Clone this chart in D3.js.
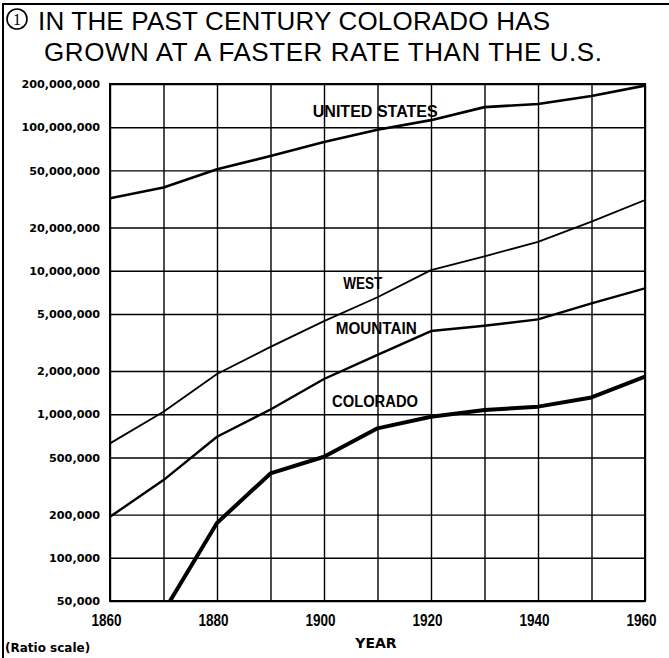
<!DOCTYPE html>
<html>
<head>
<meta charset="utf-8">
<script src="https://cdn.jsdelivr.net/npm/d3@7"></script>
<style>
  body { margin: 0; background: #fff; }
  svg { display: block; }
</style>
</head>
<body>
<div class="chart"></div>
<script>

// decades on the x axis
var years = [1860, 1870, 1880, 1890, 1900, 1910, 1920, 1930, 1940, 1950, 1960];
var yearLabels = [1860, 1880, 1900, 1920, 1940, 1960];

// population
var usPop = [32e6, 38e6, 51e6, 63e6, 79e6, 96e6, 112e6, 138e6, 145e6, 165e6, 195e6];
var westPop = [627e3, 1.04e6, 1.91e6, 2.95e6, 4.46e6, 6.53e6, 10.1e6, 12.6e6, 15.9e6, 22.0e6, 31.1e6];
var mountainPop = [193e3, 348e3, 697e3, 1.08e6, 1.76e6, 2.59e6, 3.80e6, 4.14e6, 4.58e6, 5.93e6, 7.54e6];
var coloradoPop = [null, 42e3, 175e3, 387e3, 506e3, 798e3, 961e3, 1.07e6, 1.13e6, 1.31e6, 1.83e6];

var popTicks = [5e4, 1e5, 2e5, 5e5, 1e6, 2e6, 5e6, 1e7, 2e7, 5e7, 1e8, 2e8];

var seriesNames = ["UNITED STATES", "WEST", "MOUNTAIN", "COLORADO"];
var titleLines = ["IN THE PAST CENTURY COLORADO HAS", "GROWN AT A FASTER RATE THAN THE U.S."];

var W = 669, H = 658;
var pLeft = 110, pRight = 645, pTop = 84, pBottom = 601;

var svg = d3.select("div.chart")
            .append("svg")
            .attr("width", W)
            .attr("height", H);

var x = d3.scaleLinear()
          .domain([1860, 1960])
          .range([pLeft, pRight]);

var y = d3.scaleLog()
          .domain([5e4, 2e8])
          .range([pBottom, pTop]);

// outer frame (left + top only show in the scan)
svg.append("path")
    .attr("d", "M3," + H + "V4H" + W)
    .attr("fill", "none")
    .attr("stroke", "#000")
    .attr("stroke-width", 2);

// title
svg.append("circle")
    .attr("cx", 17)
    .attr("cy", 19)
    .attr("r", 10)
    .attr("fill", "none")
    .attr("stroke", "#000")
    .attr("stroke-width", 1.6);

svg.append("text")
    .attr("x", 17)
    .attr("y", 25)
    .attr("text-anchor", "middle")
    .attr("font-family", "Liberation Serif, serif")
    .attr("font-size", 16)
    .text("1");

svg.selectAll(".title")
    .data(titleLines)
    .enter()
    .append("text")
      .attr("class", "title")
      .attr("x", function(d, i){ return i == 0 ? 38 : 44; })
      .attr("y", function(d, i){ return i == 0 ? 30 : 61; })
      .attr("textLength", function(d, i){ return i == 0 ? 512 : 558; })
      .attr("lengthAdjust", "spacing")
      .attr("font-family", "Liberation Sans, Arial, sans-serif")
      .attr("font-size", 26)
      .text(function(d){ return d; });

// grid
svg.append("g")
    .attr("class", "grid")
    .attr("transform", "translate(" + pLeft + ",0)")
    .call(d3.axisLeft(y).tickValues(popTicks).tickSize(-(pRight - pLeft)).tickFormat(""))
    .call(function(g){ g.select(".domain").remove(); });

svg.append("g")
    .attr("class", "grid")
    .attr("transform", "translate(0," + pBottom + ")")
    .call(d3.axisBottom(x).tickValues(years).tickSize(-(pBottom - pTop)).tickFormat(""))
    .call(function(g){ g.select(".domain").remove(); });

svg.selectAll(".grid line")
    .attr("stroke", "#000")
    .attr("stroke-width", 1.4);

svg.append("rect")
    .attr("x", pLeft)
    .attr("y", pTop)
    .attr("width", pRight - pLeft)
    .attr("height", pBottom - pTop)
    .attr("fill", "none")
    .attr("stroke", "#000")
    .attr("stroke-width", 2);

// axis labels
var yAxis = svg.append("g")
    .attr("transform", "translate(" + pLeft + ",0)")
    .call(d3.axisLeft(y).tickValues(popTicks).tickSize(0).tickPadding(10).tickFormat(d3.format(",")));
yAxis.select(".domain").remove();
yAxis.selectAll("text")
    .attr("font-family", "DejaVu Sans, sans-serif")
    .attr("font-weight", "bold")
    .attr("font-size", 11.2)
    .attr("fill", "#000");

var xAxis = svg.append("g")
    .attr("transform", "translate(0," + pBottom + ")")
    .call(d3.axisBottom(x).tickValues(yearLabels).tickSize(0).tickPadding(14).tickFormat(d3.format("d")));
xAxis.select(".domain").remove();
xAxis.selectAll("text")
    .attr("dx", -4)
    .attr("textLength", 30)
    .attr("lengthAdjust", "spacingAndGlyphs")
    .attr("font-family", "Liberation Sans, sans-serif")
    .attr("font-weight", "bold")
    .attr("font-size", 16)
    .attr("fill", "#000");

svg.append("text")
    .attr("x", 376)
    .attr("y", 648)
    .attr("text-anchor", "middle")
    .attr("font-family", "DejaVu Sans, sans-serif")
    .attr("font-weight", "bold")
    .attr("font-size", 14)
    .text("YEAR");

svg.append("text")
    .attr("x", 5)
    .attr("y", 652)
    .attr("font-family", "DejaVu Sans, sans-serif")
    .attr("font-weight", "bold")
    .attr("font-size", 12)
    .text("(Ratio scale)");

// lines
svg.append("clipPath")
    .attr("id", "plot")
  .append("rect")
    .attr("x", pLeft)
    .attr("y", pTop - 4)
    .attr("width", pRight - pLeft)
    .attr("height", pBottom - pTop + 4);

var line = d3.line()
    .defined(function(d){ return d != null; })
    .x(function(d, i){ return x(years[i]); })
    .y(function(d){ return y(d); });

var series = [
  {vals: usPop, w: 2.6},
  {vals: westPop, w: 1.8},
  {vals: mountainPop, w: 2.4},
  {vals: coloradoPop, w: 4}
];

svg.append("g")
    .attr("clip-path", "url(#plot)")
    .selectAll(".pop")
    .data(series)
    .enter()
    .append("path")
      .attr("class", "pop")
      .attr("d", function(d){ return line(d.vals); })
      .attr("fill", "none")
      .attr("stroke", "#000")
      .attr("stroke-width", function(d){ return d.w; })
      .attr("stroke-linejoin", "round");

// series labels sit just over their lines: [year, baseline y, width]
var labelPos = [[1897.9, 117, 125], [1903.6, 289, 39], [1902.2, 334, 81], [1901.5, 407, 86]];

svg.selectAll(".lbl")
    .data(seriesNames)
    .enter()
    .append("text")
      .attr("class", "lbl")
      .attr("x", function(d, i){ return x(labelPos[i][0]); })
      .attr("y", function(d, i){ return labelPos[i][1]; })
      .attr("textLength", function(d, i){ return labelPos[i][2]; })
      .attr("lengthAdjust", "spacingAndGlyphs")
      .attr("font-family", "Liberation Sans, Arial, sans-serif")
      .attr("font-weight", "bold")
      .attr("font-size", 16.5)
      .text(function(d){ return d; });

</script>
</body>
</html>
